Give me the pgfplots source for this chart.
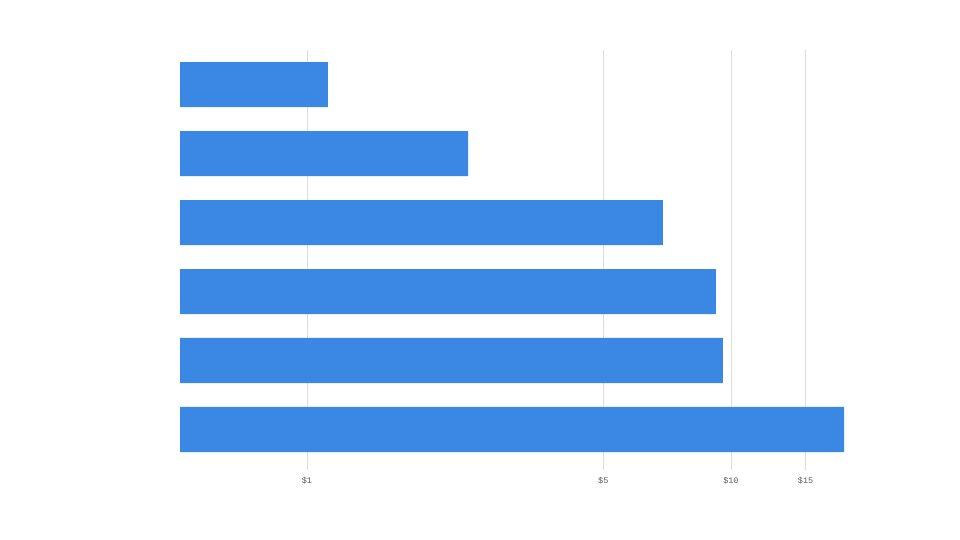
\documentclass[border=0pt]{standalone}
\usepackage{pgfplots}
\pgfplotsset{compat=1.18}
\usepackage{fontspec}
\setmonofont{Liberation Mono}
\definecolor{barblue}{RGB}{58,136,228}
\definecolor{gridgray}{RGB}{221,221,221}
\definecolor{ticktext}{RGB}{90,90,90}
\begin{document}
\begin{tikzpicture}[x=1pt,y=1pt]
\path[use as bounding box] (0,0) rectangle (960,540);
\begin{axis}[
  at={(180pt,70pt)}, anchor=south west,
  scale only axis, width=664pt, height=420pt,
  xmode=log, log origin=infty, xmin=0.502, xmax=18.48,
  ymin=-0.5, ymax=5.587, y dir=reverse,
  xbar, bar width=45pt, bar shift=0pt,
  axis line style={draw=none},
  xtick={1,5,10,15}, xticklabels={\$1,\$5,\$10,\$15},
  xticklabel style={font=\ttfamily\fontsize{8.5}{9}\selectfont, text=ticktext, yshift=-4pt},
  xtick style={draw=none}, ytick=\empty,
  xmajorgrids, grid style={gridgray, line width=0.8pt},
  major tick length=0pt,
]
\addplot[fill=barblue, draw=none] coordinates {
(1.12,0) (2.40,1) (6.91,2) (9.22,3) (9.57,4) (18.48,5)
};
\end{axis}
\end{tikzpicture}
\end{document}
